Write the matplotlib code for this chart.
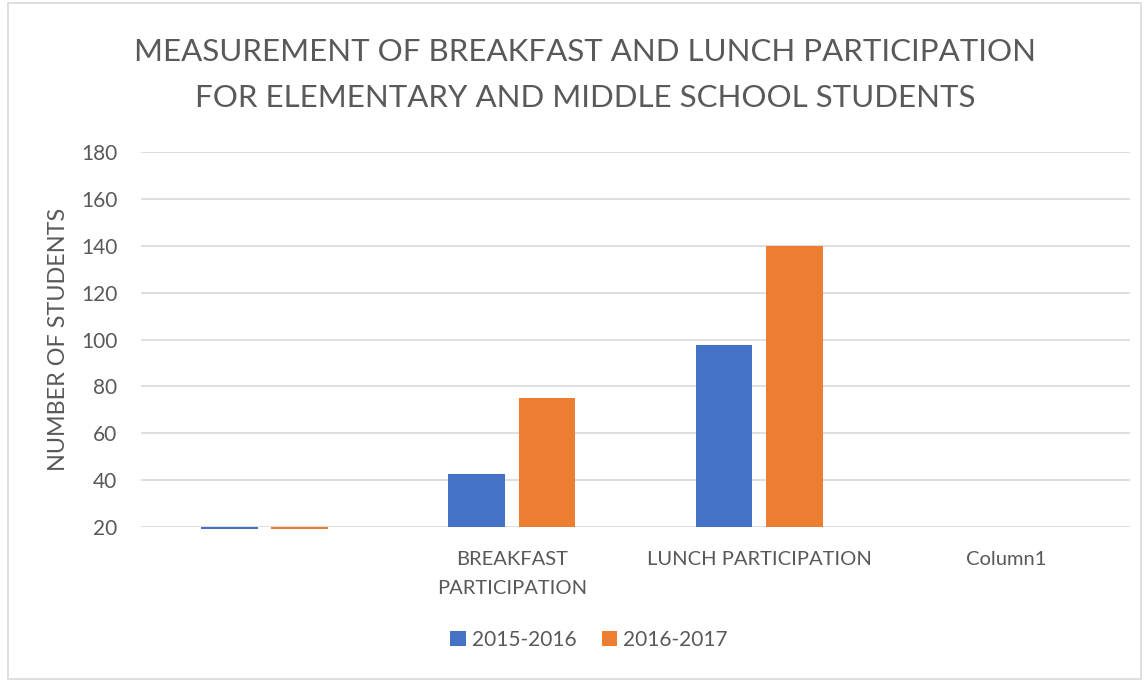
import numpy as np
import matplotlib.pyplot as plt
from matplotlib.patches import Rectangle

categories = ["", "BREAKFAST\nPARTICIPATION", "LUNCH PARTICIPATION", "Column1"]
series_names = ["2015-2016", "2016-2017"]
values_2015 = [19.2, 42.5, 97.5, np.nan]
values_2016 = [19.2, 75.0, 140.0, np.nan]
yticks = [20, 40, 60, 80, 100, 120, 140, 160, 180]

plt.rcParams['font.family'] = ['Lato', 'DejaVu Sans']
text_color = '#595959'
colors = ['#4472c4', '#ed7d31']

fig = plt.figure(figsize=(11.45, 6.83), dpi=100)
ax = fig.add_axes([141 / 1145, 1 - 527 / 683, (1130 - 141) / 1145, (527 - 152) / 683])

x = np.arange(len(categories))
width = 0.23
base = yticks[0]
for offset, vals, color, name in zip([-0.142, 0.142], [values_2015, values_2016], colors, series_names):
    heights = [v - base for v in vals]
    ax.bar(x + offset, heights, width, bottom=base, color=color, label=name,
           clip_on=False, zorder=3)

ax.set_xlim(-0.5, len(categories) - 0.5)
ax.set_ylim(yticks[0], yticks[-1])
ax.set_yticks(yticks)
ax.set_xticks(x)
ax.set_xticklabels(categories, fontsize=14.5, color=text_color, linespacing=1.9)
ax.tick_params(axis='y', labelsize=15, labelcolor=text_color, length=0, pad=17)
ax.tick_params(axis='x', length=0, pad=17)
ax.grid(axis='y', color='#d9d9d9', linewidth=1.2, zorder=0)
for s in ax.spines.values():
    s.set_visible(False)
ax.set_ylabel("NUMBER OF STUDENTS", fontsize=16.8, color=text_color, labelpad=9)

fig.text(585 / 1145, 1 - 75 / 683,
         "MEASUREMENT OF BREAKFAST AND LUNCH PARTICIPATION\nFOR ELEMENTARY AND MIDDLE SCHOOL STUDENTS",
         ha='center', va='center', fontsize=22.5, color=text_color, linespacing=1.78)

ax.legend(loc='center', bbox_to_anchor=(589 / 1145, 1 - 640 / 683), bbox_transform=fig.transFigure,
          ncol=2, frameon=False, fontsize=15, handlelength=0.75, handleheight=0.75,
          handletextpad=0.3, columnspacing=1.2, labelcolor=text_color)

fig.patches.append(Rectangle((8 / 1145, 1 - 679 / 683), (1141 - 8) / 1145, (679 - 3) / 683,
                             transform=fig.transFigure, fill=False, edgecolor='#d9d9d9', linewidth=1.2))

fig.savefig("out.png", dpi=100)
